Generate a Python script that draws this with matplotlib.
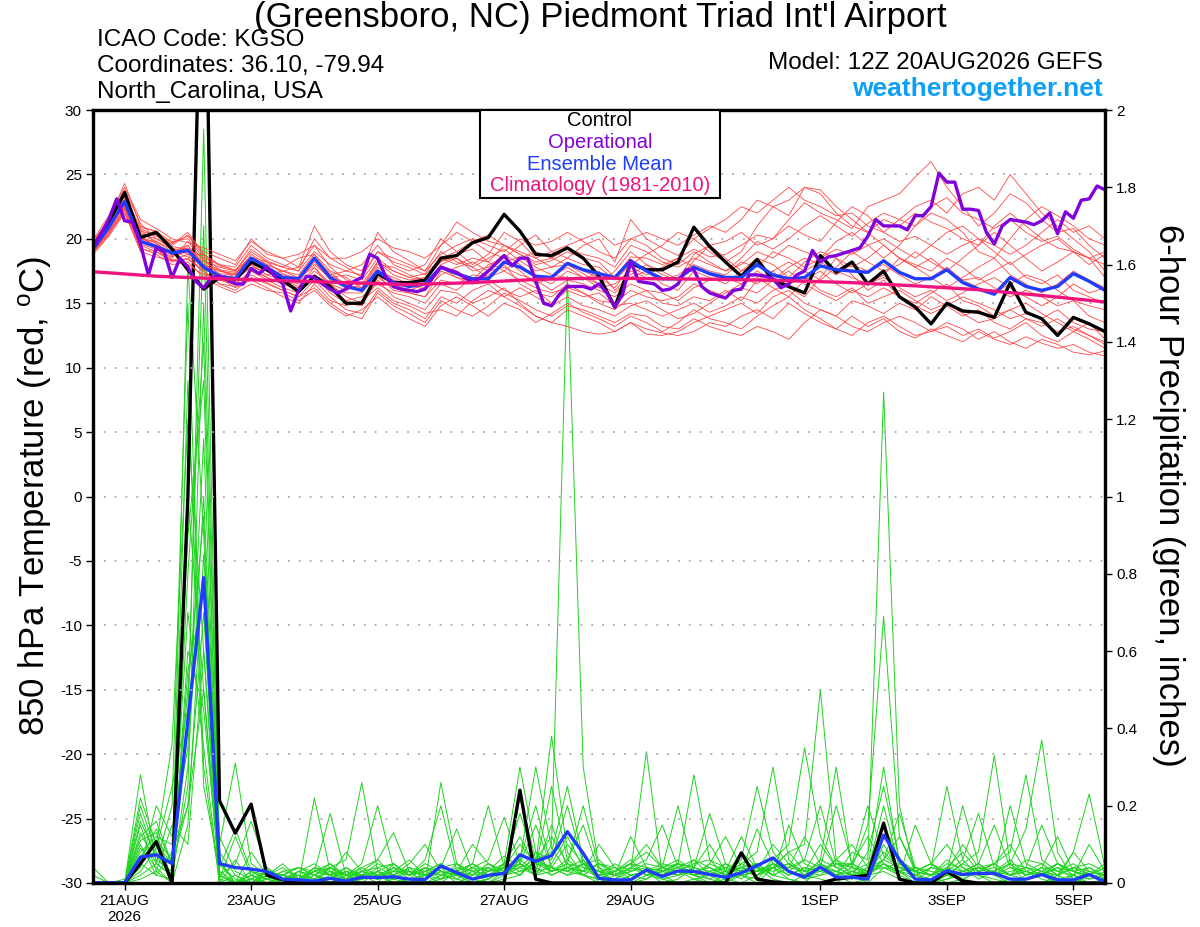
import matplotlib
matplotlib.use("Agg")
import matplotlib.pyplot as plt
import matplotlib.patches as mpatches
import matplotlib.ticker as mticker
import pandas as pd

plt.rcParams['font.family'] = ['Liberation Sans', 'DejaVu Sans']
plt.rcParams['mathtext.default'] = 'regular'
plt.rcParams['axes.unicode_minus'] = False

# time axes: GEFS members 6-hourly, operational 3-hourly, climatology daily
times = pd.date_range("2026-08-20 12:00", periods=65, freq="6h")
times_op = pd.date_range("2026-08-20 12:00", periods=129, freq="3h")
times_clim = pd.date_range("2026-08-20 12:00", periods=17, freq="1D")

tick_dates = pd.to_datetime(["2026-08-21", "2026-08-23", "2026-08-25", "2026-08-27",
                             "2026-08-29", "2026-09-01", "2026-09-03", "2026-09-05"])
tick_labels = ["21AUG\n2026", "23AUG", "25AUG", "27AUG", "29AUG", "1SEP", "3SEP", "5SEP"]

# 850 hPa temperature (C)
control_temp = [19.4, 21.3, 23.6, 20.1, 20.5, 19.2, 17.6, 16.1, 17.0, 16.8,
                18.2, 17.6, 16.8, 15.9, 17.1, 16.3, 15.0, 15.0, 17.3, 16.6,
                16.6, 16.8, 18.5, 18.7, 19.7, 20.1, 21.9, 20.6, 18.8, 18.7,
                19.3, 18.5, 17.1, 14.7, 18.1, 17.6, 17.6, 18.2, 20.9, 19.4,
                18.2, 17.1, 18.4, 16.8, 16.3, 15.8, 18.7, 17.4, 18.2, 16.5,
                17.5, 15.5, 14.7, 13.4, 15.0, 14.4, 14.3, 13.9, 16.6, 14.3,
                13.8, 12.5, 13.9, 13.4, 12.8]
mean_temp = [19.2, 20.9, 22.9, 19.8, 19.4, 18.9, 19.1, 17.8, 17.1, 16.9,
             18.5, 17.8, 17.0, 16.9, 18.5, 17.0, 16.3, 16.0, 17.5, 16.6,
             16.3, 16.5, 17.8, 17.3, 16.9, 16.9, 18.2, 17.8, 17.1, 17.0,
             18.1, 17.6, 17.3, 17.0, 18.3, 17.5, 16.9, 16.9, 17.8, 17.3,
             17.0, 17.0, 18.0, 17.2, 16.9, 17.0, 17.9, 17.6, 17.5, 17.4,
             18.3, 17.4, 16.9, 16.9, 17.6, 16.6, 16.1, 15.7, 17.0, 16.3,
             16.0, 16.3, 17.3, 16.7, 16.0]
operational_temp = [19.3, 20.4, 21.5, 23.1, 21.4, 21.3, 19.6, 17.2, 19.3, 19.0,
                    17.0, 18.5, 17.8, 16.7, 16.2, 17.0, 17.1, 16.8, 16.5, 16.5,
                    17.7, 17.3, 17.8, 17.1, 16.5, 14.4, 16.0, 17.1, 17.0, 16.5,
                    16.1, 15.8, 16.1, 16.7, 17.0, 18.8, 18.5, 17.1, 16.3, 16.1,
                    16.0, 15.9, 16.1, 17.0, 17.8, 17.6, 17.4, 17.0, 16.6, 17.0,
                    17.5, 18.1, 18.7, 17.9, 18.5, 18.5, 16.7, 15.0, 14.8, 15.7,
                    16.3, 16.3, 16.3, 16.1, 16.5, 15.8, 14.7, 15.7, 18.3, 16.7,
                    16.6, 16.5, 16.0, 16.1, 16.5, 17.6, 17.6, 16.3, 15.8, 15.6,
                    15.4, 16.0, 16.1, 17.2, 17.2, 17.1, 16.9, 16.2, 16.5, 17.2,
                    17.5, 19.1, 18.2, 18.6, 18.7, 18.9, 19.1, 19.3, 20.2, 21.5,
                    21.0, 21.0, 21.0, 20.7, 21.8, 21.8, 22.5, 25.1, 24.4, 24.4,
                    22.3, 22.3, 22.2, 20.5, 19.6, 21.0, 21.5, 21.4, 21.3, 21.1,
                    21.4, 22.0, 20.4, 22.1, 21.6, 23.0, 23.1, 24.1, 23.8]
climatology_temp = [17.45, 17.1, 16.9, 16.75, 16.6, 16.45, 16.6, 16.85, 16.95,
                    16.9, 16.85, 16.75, 16.6, 16.35, 16.05, 15.6, 15.1]

temp_members = [
    [19.5, 21.0, 23.5, 20.5, 19.8, 19.0, 19.5, 18.0, 17.5, 17.2, 18.8, 18.0, 17.5, 17.8, 19.5, 17.8, 16.8, 16.5, 18.2, 17.5,
     17.0, 16.8, 18.5, 19.0, 19.8, 20.3, 19.5, 18.8, 18.0, 18.3, 19.0, 18.5, 18.2, 17.0, 18.6, 18.5, 18.0, 18.5, 19.2, 18.6,
     18.8, 19.5, 20.3, 20.0, 21.5, 22.8, 22.0, 21.5, 20.8, 22.5, 23.0, 23.5, 24.8, 26.0, 24.0, 22.5, 21.0, 22.0, 23.5, 22.8,
     21.5, 20.5, 20.8, 19.5, 18.5],
    [19.0, 20.5, 22.3, 19.5, 19.0, 18.2, 18.5, 17.5, 16.5, 16.0, 17.0, 16.5, 16.0, 15.5, 16.8, 15.5, 14.5, 14.2, 16.0, 15.0,
     14.5, 13.8, 15.5, 15.0, 16.0, 16.5, 15.5, 14.8, 14.0, 13.5, 14.5, 14.0, 13.5, 12.8, 13.5, 13.0, 12.7, 12.5, 12.8, 13.5,
     13.2, 14.0, 14.5, 13.8, 15.0, 14.2, 13.5, 13.0, 14.0, 13.2, 13.8, 12.8, 12.3, 13.0, 12.5, 12.0, 12.8, 12.2, 11.8, 12.4,
     11.9, 11.5, 11.8, 11.2, 10.9],
    [19.8, 21.5, 24.3, 21.0, 20.5, 19.5, 20.3, 19.0, 18.5, 18.0, 20.0, 18.8, 18.5, 17.8, 21.0, 19.0, 18.0, 17.5, 20.5, 19.0,
     18.3, 17.5, 19.5, 20.5, 19.8, 19.0, 18.5, 19.5, 20.3, 19.0, 18.5, 19.5, 20.0, 18.2, 21.5, 20.0, 19.3, 18.7, 20.0, 19.0,
     18.2, 19.0, 21.0, 22.5, 21.8, 24.0, 23.5, 22.0, 21.0, 20.5, 21.5, 21.0, 22.0, 21.3, 20.8, 20.0, 19.5, 21.0, 22.0, 21.0,
     20.0, 19.3, 19.0, 18.5, 18.0],
    [19.2, 20.8, 22.8, 20.0, 19.5, 18.8, 19.0, 17.8, 17.0, 16.8, 18.0, 17.2, 16.8, 16.3, 17.5, 16.5, 15.5, 15.0, 17.0, 16.2,
     15.8, 15.5, 17.5, 17.0, 16.5, 17.2, 18.0, 16.5, 15.8, 15.5, 16.5, 15.8, 15.0, 14.5, 15.5, 16.0, 15.0, 14.8, 15.5, 15.2,
     16.0, 15.2, 16.8, 17.5, 16.2, 15.5, 17.0, 18.5, 17.2, 16.0, 16.8, 15.5, 15.0, 15.8, 16.5, 15.2, 14.8, 14.0, 14.5, 13.8,
     13.2, 13.8, 13.0, 12.5, 12.0],
    [19.6, 21.2, 23.2, 20.3, 19.2, 18.5, 19.8, 18.3, 17.8, 17.5, 19.2, 18.3, 17.8, 18.5, 18.8, 17.2, 17.5, 18.0, 19.5, 18.0,
     17.5, 18.0, 20.0, 19.0, 18.0, 18.8, 20.5, 19.8, 18.5, 17.8, 18.0, 17.3, 16.5, 17.5, 19.0, 18.0, 17.2, 16.8, 18.3, 19.5,
     19.8, 20.5, 19.5, 20.0, 21.0, 20.3, 19.8, 21.3, 22.5, 21.8, 20.5, 21.5, 22.5, 23.0, 22.0, 23.5, 24.0, 23.0, 25.0, 23.5,
     22.0, 21.0, 20.0, 19.0, 17.5],
    [19.0, 20.6, 22.0, 19.3, 18.8, 18.0, 18.2, 17.0, 16.3, 15.8, 16.5, 16.0, 15.8, 15.2, 16.0, 14.8, 14.0, 14.5, 15.5, 14.5,
     13.8, 13.2, 14.8, 15.5, 14.8, 14.0, 15.0, 14.5, 13.5, 14.2, 15.0, 14.3, 13.8, 13.2, 14.0, 13.5, 12.8, 13.5, 14.5, 13.8,
     13.5, 13.0, 14.0, 14.8, 15.5, 14.5, 13.8, 13.0, 12.5, 13.5, 14.0, 13.2, 12.5, 12.8, 13.5, 13.0, 12.2, 12.8, 12.0, 11.5,
     12.2, 11.8, 11.2, 11.0, 11.3],
    [19.4, 21.0, 22.5, 20.8, 20.2, 19.8, 20.0, 18.5, 17.2, 17.0, 17.8, 17.5, 17.0, 16.8, 18.2, 16.8, 16.2, 16.0, 17.8, 16.8,
     16.5, 16.2, 18.0, 18.5, 17.5, 17.8, 18.8, 18.0, 17.0, 16.5, 17.5, 17.0, 16.5, 15.8, 17.0, 17.5, 16.5, 16.0, 17.5, 17.0,
     16.5, 17.5, 18.5, 18.0, 17.0, 18.2, 19.0, 18.5, 17.8, 18.5, 19.5, 18.5, 18.0, 17.5, 18.5, 17.8, 16.8, 17.5, 18.2, 17.0,
     16.5, 17.2, 16.0, 15.5, 15.0],
    [19.3, 21.5, 23.0, 20.0, 19.8, 19.2, 19.2, 18.0, 17.5, 17.3, 18.5, 17.8, 17.2, 17.0, 18.0, 17.0, 17.2, 16.8, 18.5, 17.5,
     17.0, 17.3, 19.0, 18.2, 17.8, 18.5, 19.2, 18.3, 17.5, 17.8, 18.5, 18.0, 17.8, 16.8, 18.0, 18.8, 19.5, 20.5, 20.0, 20.8,
     21.5, 22.5, 22.0, 23.0, 24.0, 23.0, 22.5, 21.8, 22.0, 21.0, 20.5, 19.8, 20.2, 19.5, 18.8, 19.5, 20.0, 19.0, 18.0, 18.8,
     19.5, 20.0, 19.0, 18.0, 18.8],
    [18.8, 20.2, 22.0, 19.0, 18.6, 18.3, 18.8, 17.3, 16.8, 16.5, 17.5, 17.0, 16.5, 16.0, 17.0, 16.0, 15.2, 15.5, 16.5, 15.8,
     15.5, 15.0, 16.5, 16.0, 17.0, 16.8, 16.0, 15.5, 16.0, 15.0, 16.0, 15.5, 15.8, 14.8, 15.0, 14.5, 14.0, 14.5, 15.0, 14.3,
     14.8, 15.5, 15.0, 16.0, 16.5, 17.0, 16.0, 15.5, 16.2, 15.0, 15.5, 16.0, 15.2, 14.5, 15.0, 14.2, 13.5, 13.8, 14.5, 15.0,
     14.2, 13.5, 12.8, 13.5, 12.2],
    [19.7, 21.3, 23.8, 21.2, 20.0, 19.3, 18.8, 18.8, 18.0, 17.8, 19.5, 18.5, 18.0, 17.5, 20.0, 18.5, 17.8, 17.0, 19.0, 18.5,
     18.0, 17.5, 18.8, 19.5, 20.0, 19.5, 19.0, 20.0, 19.5, 19.8, 20.5, 19.8, 19.0, 18.5, 20.0, 19.5, 18.5, 18.0, 19.0, 18.2,
     17.5, 18.0, 19.0, 18.5, 19.5, 19.0, 18.5, 19.8, 20.5, 19.5, 18.5, 19.5, 21.0, 22.0, 21.5, 20.5, 19.0, 18.5, 20.0, 21.5,
     22.5, 21.8, 21.0, 20.0, 19.5],
    [19.1, 20.7, 22.6, 19.8, 19.3, 18.6, 19.5, 17.8, 16.8, 16.5, 17.5, 16.8, 16.2, 15.8, 17.2, 15.8, 15.0, 14.8, 16.8, 15.5,
     15.0, 14.5, 16.0, 15.8, 15.0, 15.5, 16.2, 15.0, 14.0, 13.5, 13.2, 12.8, 12.6, 12.8, 13.5, 12.6, 12.5, 12.8, 13.5, 14.0,
     14.5, 15.0, 14.2, 15.5, 16.0, 15.0, 14.5, 14.0, 15.2, 14.8, 14.2, 15.0, 14.5, 15.5, 14.8, 14.0, 14.5, 13.5, 13.0, 13.8,
     13.5, 12.8, 13.2, 12.5, 11.8],
    [19.5, 20.9, 23.0, 20.7, 19.6, 18.9, 19.3, 18.2, 17.6, 17.0, 18.2, 17.5, 16.8, 16.5, 18.5, 17.2, 16.5, 16.0, 17.5, 17.0,
     16.5, 16.0, 17.2, 17.8, 18.2, 17.5, 17.8, 17.2, 16.8, 16.0, 16.8, 16.5, 16.0, 15.5, 16.5, 16.0, 15.8, 15.2, 16.2, 16.8,
     17.0, 16.5, 17.5, 16.8, 17.8, 18.5, 18.0, 17.2, 18.0, 17.5, 18.0, 17.2, 16.5, 17.0, 17.8, 16.8, 16.2, 15.8, 16.5, 17.2,
     16.8, 16.0, 15.2, 14.8, 14.5],
    [19.9, 21.8, 24.0, 21.5, 20.8, 20.0, 19.7, 19.3, 18.8, 18.3, 19.8, 19.0, 18.5, 18.8, 19.5, 18.5, 18.5, 19.0, 20.0, 19.3,
     19.0, 18.5, 19.5, 21.3, 20.5, 19.8, 19.5, 19.0, 18.5, 19.0, 19.5, 20.0, 20.5, 19.5, 20.0, 20.5, 20.0, 19.5, 20.3, 21.0,
     20.5, 21.5, 23.0, 22.5, 23.0, 24.0, 23.8, 22.5, 21.5, 20.5, 19.5, 18.5, 17.8, 18.5, 17.5, 16.8, 17.0, 16.2, 15.5, 16.0,
     15.5, 14.8, 15.2, 14.0, 13.5],
    [18.9, 20.3, 22.2, 19.2, 19.0, 18.4, 18.0, 17.2, 17.0, 16.2, 16.8, 16.2, 15.5, 15.0, 16.5, 15.2, 14.8, 15.2, 16.2, 15.2,
     14.8, 14.2, 14.5, 14.0, 15.2, 16.0, 15.5, 16.2, 15.5, 14.8, 15.5, 14.8, 14.5, 14.0, 14.8, 15.2, 14.5, 13.8, 14.2, 15.0,
     15.8, 16.5, 17.0, 16.2, 15.5, 16.8, 17.5, 16.5, 15.8, 16.5, 17.0, 16.2, 15.5, 16.0, 15.2, 15.8, 16.5, 17.0, 16.2, 15.5,
     14.8, 15.5, 16.5, 15.8, 16.2],
    [19.3, 20.8, 23.4, 20.2, 19.4, 19.0, 18.6, 18.0, 17.3, 17.2, 18.0, 17.2, 17.5, 17.0, 17.8, 16.5, 16.0, 16.5, 17.2, 16.5,
     16.0, 16.5, 17.8, 17.0, 16.8, 18.0, 18.5, 17.5, 16.5, 17.0, 17.8, 17.0, 16.2, 16.5, 17.5, 17.0, 16.8, 17.2, 18.0, 17.5,
     17.2, 18.2, 17.8, 19.0, 18.5, 17.8, 18.5, 19.2, 18.8, 19.5, 20.0, 19.2, 18.5, 19.5, 20.5, 21.0, 20.0, 19.5, 18.8, 19.5,
     20.5, 21.5, 20.5, 21.0, 20.0],
    [19.4, 20.9, 22.7, 20.6, 20.3, 19.6, 20.5, 18.8, 17.9, 17.6, 18.5, 18.0, 17.5, 17.2, 18.8, 17.5, 17.0, 16.2, 18.0, 17.8,
     17.2, 16.8, 18.2, 18.8, 19.2, 18.2, 17.5, 18.5, 19.0, 18.5, 18.0, 17.5, 17.0, 16.2, 17.8, 17.2, 17.8, 18.5, 17.8, 17.2,
     16.8, 17.0, 16.5, 17.5, 18.2, 17.5, 16.8, 17.8, 19.0, 18.2, 17.5, 18.0, 19.0, 18.2, 17.5, 18.5, 19.5, 20.5, 19.5, 18.5,
     17.5, 18.2, 19.0, 18.5, 17.0],
    [19.0, 20.4, 22.4, 19.6, 19.2, 18.3, 18.4, 17.5, 16.5, 16.3, 17.2, 16.6, 16.0, 15.5, 16.2, 15.0, 14.2, 13.8, 15.8, 14.8,
     14.2, 13.5, 15.2, 14.5, 14.0, 14.8, 15.8, 15.2, 14.5, 14.0, 14.8, 14.5, 14.0, 13.5, 14.2, 14.0, 13.2, 13.0, 13.8, 13.2,
     12.8, 12.5, 13.2, 12.8, 12.2, 13.5, 14.5, 14.0, 13.2, 12.8, 13.5, 14.0, 13.5, 12.8, 13.2, 12.5, 13.0, 12.3, 12.8, 13.5,
     12.5, 12.0, 12.8, 12.2, 11.5],
    [19.6, 21.2, 23.6, 20.4, 20.0, 19.4, 19.2, 18.5, 18.0, 17.5, 19.0, 18.2, 17.8, 17.5, 19.0, 18.0, 17.5, 17.2, 19.0, 18.2,
     17.8, 17.2, 18.5, 18.0, 18.5, 18.2, 19.5, 18.8, 18.2, 18.5, 19.2, 18.8, 18.5, 17.8, 19.5, 19.0, 18.2, 17.8, 18.5, 18.0,
     17.5, 18.5, 19.8, 19.2, 20.0, 21.0, 21.8, 21.0, 20.2, 21.2, 22.0, 21.5, 21.0, 22.5, 23.2, 22.0, 21.5, 20.8, 21.5, 20.5,
     19.8, 20.2, 19.2, 18.5, 19.0],
    [19.2, 20.6, 22.4, 20.0, 19.7, 18.7, 19.0, 17.6, 17.2, 16.8, 17.8, 17.0, 16.5, 16.2, 17.8, 16.2, 15.8, 15.8, 17.2, 16.0,
     15.8, 15.5, 16.8, 16.5, 17.2, 17.0, 17.5, 16.8, 16.2, 15.8, 16.2, 15.8, 15.2, 15.0, 16.0, 15.5, 15.2, 15.5, 16.5, 16.0,
     15.5, 16.2, 15.8, 16.8, 17.5, 16.5, 15.8, 15.2, 16.0, 15.5, 16.2, 15.5, 14.8, 14.2, 14.8, 15.5, 15.0, 14.5, 13.8, 14.2,
     13.8, 14.5, 13.5, 13.0, 12.8],
    [19.5, 21.1, 23.3, 20.9, 20.6, 19.7, 20.2, 18.7, 17.6, 17.4, 18.6, 18.2, 17.3, 16.8, 18.4, 17.4, 16.4, 16.2, 18.2, 17.2,
     16.8, 17.0, 18.3, 18.5, 17.8, 17.0, 18.2, 18.6, 17.8, 17.2, 17.0, 16.8, 17.5, 16.0, 17.2, 18.0, 17.5, 16.8, 18.8, 19.5,
     18.5, 17.5, 18.0, 17.2, 16.8, 17.5, 18.2, 17.5, 17.0, 16.5, 17.2, 18.5, 17.8, 17.0, 16.2, 17.0, 17.8, 18.5, 17.2, 16.5,
     15.8, 16.5, 17.5, 16.8, 16.2],
]

# 6-hour precipitation (inches)
control_precip = [0, 0, 0, .05, .107, 0, 1.0, 2.7, .213, .129,
                  .204, .02, .008, 0, 0, 0, 0, 0, 0, 0,
                  0, 0, 0, 0, 0, 0, 0, .24, .01, 0,
                  0, 0, 0, 0, 0, 0, 0, 0, 0, 0,
                  0, .078, .01, .003, 0, 0, 0, .01, .015, .02,
                  .155, .01, 0, 0, .03, .005, 0, 0, 0, 0,
                  0, 0, 0, 0, 0]
mean_precip = [0, 0, 0, .067, .073, .05, .42, .79, .05, .04,
               .036, .03, .01, .008, .005, .012, .005, .015, .014, .016,
               .01, .009, .044, .027, .01, .02, .025, .073, .056, .071,
               .133, .077, .012, .008, .008, .034, .017, .031, .03, .022,
               .015, .026, .045, .065, .03, .015, .041, .015, .015, .01,
               .124, .06, .01, .008, .032, .022, .025, .025, .01, .01,
               .022, .008, .008, .022, .003]

precip_members = [
    [0, 0, 0, .28, .05, .02, 1.6, .9, .02, 0, 0, .01, 0, 0, .03, .18, .02, 0, 0, .01,
     0, 0, .02, .01, 0, 0, .03, .05, .02, .1, 1.57, .3, .04, 0, 0, .02, .01, 0, 0, .03,
     .01, 0, .02, .04, .01, 0, .05, .02, 0, .01, .1, .03, 0, 0, .02, .01, 0, 0, .01, 0,
     0, .02, 0, 0, 0],
    [0, 0, 0, .12, .16, .05, .4, 1.95, .05, .01, 0, 0, .02, .01, 0, .04, .06, .26, .03, 0,
     0, .01, .03, .02, 0, .01, .04, .1, .05, .38, .08, .02, 0, .01, .03, .34, .02, 0, .01, .02,
     0, .03, .05, .02, .01, 0, .04, .02, .08, .06, 1.27, .2, .02, 0, .01, .03, .02, 0, 0, .01,
     .02, 0, .01, 0, 0],
    [.04, 0, 0, .05, .1, .36, 1.2, .6, 0, 0, .02, 0, 0, .03, .01, 0, .02, .05, .2, .04,
     .01, 0, .26, .05, .01, 0, .02, .06, .2, .04, .02, .05, .01, 0, 0, .01, .03, .05, .02, 0,
     .01, .02, 0, .04, .08, .1, .5, .06, .02, 0, .04, .03, .01, 0, .02, .05, .08, .33, .05, 0,
     0, .01, .02, 0, 0],
    [0, 0, 0, .2, .08, .02, .25, 1.5, .1, .31, .05, .02, 0, 0, .22, .03, 0, .01, .02, 0,
     0, .02, .04, .14, .03, 0, .01, .02, .06, .08, .25, .06, 0, .02, .01, .03, 0, .01, .04, .02,
     .03, .12, .04, .01, 0, .02, .03, .05, .04, .15, .69, .12, .03, 0, .01, .02, .04, .02, .05, .14,
     .37, .08, .01, 0, .01],
    [0, 0, .01, .08, .12, .1, .9, 1.3, .03, 0, 0, .03, .01, 0, .02, .05, .01, .03, .06, .13,
     .03, 0, .01, .02, .04, .06, .17, .05, .02, .03, .06, .15, .03, 0, .02, .01, .04, .03, .01, 0,
     .02, .05, .08, .3, .06, .02, .01, 0, .03, .02, .05, .02, 0, .04, .25, .06, .02, .01, 0, .02,
     .04, .01, 0, .02, 0],
    [0, 0, 0, .15, .03, 0, .6, .45, .02, .05, .16, .04, .01, .02, 0, .01, .03, .02, 0, .05,
     .02, .06, .2, .03, 0, .01, .05, .3, .08, .02, .04, .02, .01, .03, .05, .08, .04, .2, .03, .01,
     0, .02, .01, .05, .03, .06, .04, .2, .05, .02, .03, .01, 0, .02, .04, .01, .03, .05, .02, .06,
     .05, .02, .08, .23, .04],
    [0, 0, 0, .02, .05, .2, 1.5, .3, 0, 0, .01, 0, .02, .04, .02, 0, .01, .03, .02, 0,
     .01, .02, 0, .03, .05, .2, .04, .02, .06, .12, .05, .02, .01, 0, .02, .03, .01, .02, .06, .04,
     .02, .06, .25, .08, .03, .01, .02, .03, .01, .04, .06, .18, .04, .02, 0, .01, .03, .05, .1, .03,
     .01, 0, .02, .01, .03],
    [0, 0, 0, .1, .02, .01, .3, 1.0, .08, .02, 0, .02, .05, .01, .03, .02, 0, .01, .04, .02,
     0, .03, .05, .02, .01, .04, .02, .06, .3, .09, .03, .05, .02, .01, .04, .02, .03, .05, .04, .1,
     .03, .01, .04, .02, .15, .05, .03, .02, .01, .03, .08, .04, .02, .01, .03, .2, .05, .02, 0, .01,
     .02, .04, .01, .03, .02],
    [0, 0, 0, .06, .14, .05, .2, .7, .01, .12, .02, 0, .01, .03, .05, .02, .08, .03, .01, .02,
     .04, .01, .03, 0, .02, .05, .03, .22, .06, .04, .02, .03, .1, .04, .01, .03, .02, .04, .06, .02,
     .05, .03, .02, .06, .1, .35, .12, .04, .02, .08, .25, .06, .03, .02, .05, .04, .01, .03, .06, .02,
     .04, .12, .03, .01, .02],
    [.02, 0, 0, .18, .06, .03, 1.0, .5, 0, 0, .03, .01, 0, .02, .01, .04, .02, 0, .03, .05,
     .02, .04, .01, .03, .1, .05, .02, .04, .08, .06, .2, .05, .03, .02, .04, .06, .15, .04, .02, .01,
     .03, .04, .02, .05, .03, .02, .06, .04, .05, .12, .05, .03, .02, .04, .03, .06, .18, .04, .02, .01,
     .03, .02, .04, .02, .01],
    [0, 0, 0, .03, .09, .25, .45, 1.7, .05, 0, 0, .02, .01, 0, .04, .03, .01, .02, .05, .03,
     .06, .02, .04, .01, .03, .02, .05, .03, .04, .25, .06, .03, .02, .05, .03, .04, .02, .03, .05, .06,
     .02, .04, .03, .1, .05, .03, .04, .02, .03, .05, .04, .02, .15, .05, .03, .02, .04, .03, .05, .02,
     .03, .01, .08, .03, .02],
    [0, 0, 0, .09, .04, 0, .15, .85, .12, .03, .01, .03, .02, .01, 0, .02, .04, .01, .03, .02,
     .05, .1, .03, .02, .04, .01, .03, .05, .15, .04, .03, .02, .05, .03, .06, .02, .04, .05, .28, .06,
     .04, .03, .05, .02, .04, .06, .2, .05, .03, .02, .06, .04, .03, .05, .02, .03, .05, .02, .04, .03,
     .02, .05, .03, .04, .01],
    [0, 0, 0, .22, .1, .05, .7, .35, 0, .02, 0, .01, .03, .04, .02, .01, .03, .02, .01, .04,
     .02, .03, .05, .02, .01, .03, .04, .18, .05, .03, .04, .06, .02, .03, .05, .02, .03, .04, .02, .05,
     .12, .04, .03, .05, .02, .04, .03, .06, .1, .04, .3, .05, .02, .04, .03, .02, .04, .05, .08, .28,
     .06, .03, .02, .04, .02],
    [0, 0, 0, .04, .2, .12, .35, 1.15, .02, 0, .08, .02, .01, .03, .02, .04, .01, .03, .02, .01,
     .03, .02, .04, .05, .02, .03, .07, .04, .06, .03, .05, .2, .04, .02, .03, .05, .04, .02, .03, .04,
     .02, .08, .04, .03, .05, .02, .06, .3, .04, .03, .05, .03, .04, .02, .06, .03, .05, .15, .04, .02,
     .04, .03, .05, .02, .01],
    [0, 0, 0, .13, .05, .02, 1.3, .25, .03, 0, .02, .01, .03, .02, .01, .03, .02, .04, .06, .02,
     .01, .04, .02, .03, .05, .02, .04, .06, .03, .15, .04, .03, .05, .02, .12, .04, .03, .05, .02, .03,
     .05, .02, .03, .04, .08, .03, .05, .02, .04, .03, .06, .12, .04, .03, .02, .05, .03, .04, .02, .03,
     .02, .04, .03, .02, .05],
    [0, 0, 0, .07, .11, .06, .5, .95, 0, .06, 0, .03, .02, .01, .04, .02, .03, .01, .02, .04,
     .03, .02, .01, .05, .03, .04, .02, .03, .05, .04, .1, .05, .03, .04, .02, .03, .05, .04, .03, .02,
     .04, .03, .14, .05, .03, .02, .04, .03, .05, .2, .07, .04, .03, .05, .1, .04, .02, .03, .05, .04,
     .15, .05, .03, .02, .04],
    [0, 0, 0, .01, .03, .15, .1, .6, .06, 0, .03, .02, .04, .01, .03, .05, .02, .03, .04, .05,
     .02, .04, .03, .02, .05, .03, .04, .02, .08, .03, .05, .04, .02, .03, .05, .1, .04, .03, .02, .05,
     .03, .04, .05, .02, .04, .12, .05, .03, .02, .04, .15, .06, .03, .02, .04, .03, .05, .02, .03, .04,
     .03, .05, .02, .1, .03],
    [0, 0, 0, .16, .07, .02, .8, 1.4, .01, 0, .02, .04, .01, .03, .02, .01, .04, .02, .03, .01,
     .04, .03, .02, .04, .03, .04, .02, .05, .03, .04, .03, .05, .06, .02, .04, .03, .02, .05, .04, .18,
     .05, .03, .02, .04, .05, .03, .1, .04, .02, .03, .04, .05, .03, .02, .04, .08, .03, .05, .02, .03,
     .05, .02, .04, .03, .02],
    [0, 0, 0, .05, .02, .08, .2, .5, .04, .14, .03, .01, .02, .04, .03, .02, .01, .04, .02, .03,
     .02, .05, .03, .02, .04, .03, .05, .12, .04, .02, .04, .03, .05, .04, .02, .03, .04, .06, .03, .04,
     .02, .05, .03, .04, .02, .04, .03, .05, .05, .03, .2, .04, .03, .05, .02, .03, .04, .02, .2, .05,
     .03, .02, .04, .05, .03],
    [0, 0, 0, .11, .13, .01, .55, .75, .02, 0, .01, .03, .02, .01, .03, .04, .02, .02, .01, .03,
     .03, .02, .04, .03, .02, .05, .03, .04, .02, .05, .12, .04, .03, .02, .05, .04, .03, .02, .04, .03,
     .04, .02, .03, .05, .04, .03, .02, .06, .04, .02, .05, .03, .04, .02, .03, .1, .04, .03, .02, .04,
     .02, .05, .03, .02, .04],
]

RED = '#ff4646'
GREEN = '#1ed21e'
BLUE = '#1f3cff'
PURPLE = '#8200dc'
MAGENTA = '#f0147f'

fig = plt.figure(figsize=(12, 9.27), dpi=100)
ax = fig.add_axes([93 / 1200, 44 / 927, 1012 / 1200, 773 / 927])
ax2 = ax.twinx()
ax.set_zorder(ax2.get_zorder() + 1)
ax.patch.set_visible(False)

# precipitation (right axis)
for m in precip_members:
    ax2.plot(times, m, color=GREEN, lw=0.7)
ax2.plot(times, control_precip, color='black', lw=2.4)
ax2.plot(times, mean_precip, color=BLUE, lw=2.4)

# temperature (left axis)
for m in temp_members:
    ax.plot(times, m, color=RED, lw=0.6)
ax.plot(times, control_temp, color='black', lw=2.4)
ax.plot(times, mean_temp, color=BLUE, lw=2.4)
ax.plot(times_op, operational_temp, color=PURPLE, lw=2.4)
ax.plot(times_clim, climatology_temp, color=MAGENTA, lw=2.4)

ax.set_xlim(times[0], times[-1])
ax.set_ylim(-30, 30)
ax2.set_ylim(0, 2)
ax.set_yticks(range(-30, 31, 5))
ax2.set_yticks([i * 0.2 for i in range(11)])
ax2.yaxis.set_major_formatter(mticker.FuncFormatter(lambda v, p: "%g" % round(v, 1)))
ax.set_xticks(tick_dates)
ax.set_xticklabels(tick_labels, linespacing=1.15)
ax.grid(axis='y', color='#a8a8a8', linestyle=(0, (1, 5)), lw=1.3)

for a in (ax, ax2):
    a.tick_params(direction='out', length=5, width=1, labelsize=11, pad=3)
    for s in a.spines.values():
        s.set_linewidth(2.3)

# header texts
fig.text(0.5, 1 - 18 / 927, "(Greensboro, NC) Piedmont Triad Int'l Airport",
         ha='center', va='center', fontsize=25)
fig.text(97 / 1200, 1 - 40 / 927, "ICAO Code: KGSO", va='center', fontsize=17.5)
fig.text(97 / 1200, 1 - 66 / 927, "Coordinates: 36.10, -79.94", va='center', fontsize=17.5)
fig.text(97 / 1200, 1 - 92 / 927, "North_Carolina, USA", va='center', fontsize=17.5)
fig.text(1103 / 1200, 1 - 63 / 927, "Model: 12Z 20AUG2026 GEFS", ha='right', va='center', fontsize=17.5)
fig.text(1103 / 1200, 1 - 89 / 927, "weathertogether.net", ha='right', va='center',
         fontsize=19, fontweight='bold', color='#0ea0f5')

fig.text(35 / 1200, 1 - 496 / 927, "850 hPa Temperature (red, $^{o}$C)", rotation=90,
         ha='center', va='center', fontsize=25)
fig.text(1168 / 1200, 1 - 495 / 927, "6-hour Precipitation (green, inches)", rotation=270,
         ha='center', va='center', fontsize=25)

# legend box
fig.patches.append(mpatches.Rectangle((480 / 1200, 1 - 198 / 927), 240 / 1200, 88 / 927,
                                      transform=fig.transFigure, facecolor='white',
                                      edgecolor='black', lw=1.5, zorder=5))
legend_items = [("Control", 'black'), ("Operational", PURPLE),
                ("Ensemble Mean", BLUE), ("Climatology (1981-2010)", MAGENTA)]
for k, (txt, col) in enumerate(legend_items):
    fig.text(0.5, 1 - (121 + 21.5 * k) / 927, txt, ha='center', va='center',
             fontsize=14.5, color=col, zorder=6)

fig.savefig("out.png", dpi=100)
